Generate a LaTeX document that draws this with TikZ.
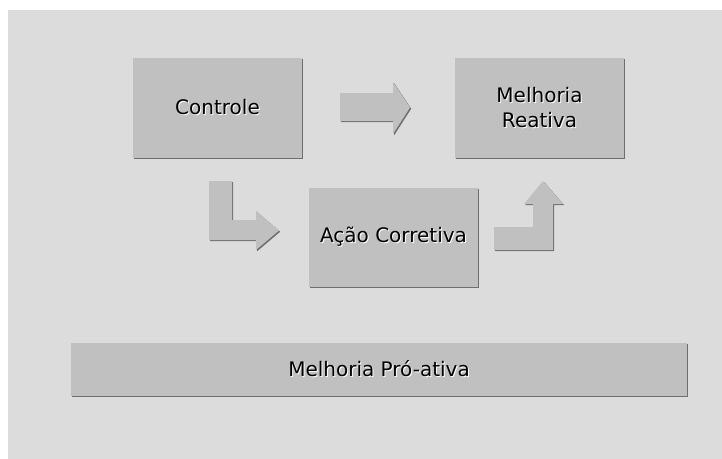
\documentclass[tikz,border=0pt]{standalone}
\usepackage{fontspec}
\setmainfont{DejaVu Sans}
\usetikzlibrary{shadows}

\definecolor{panelgray}{HTML}{DCDCDC}
\definecolor{boxgray}{HTML}{C0C0C0}
\definecolor{edgegray}{HTML}{6E6E6E}

\newcommand{\embossed}[1]{\leavevmode\rlap{\hspace{1pt}\raisebox{-1pt}{\textcolor{white}{#1}}}#1}

\begin{document}
\begin{tikzpicture}[x=1pt,y=-1pt,
    shade3d/.style={drop shadow={shadow xshift=1.2pt,shadow yshift=-1.2pt,fill=edgegray,opacity=1}},
    block/.style={fill=boxgray,shade3d,inner sep=0pt,align=center,
      font=\fontsize{20}{25}\selectfont},
    blockarrow/.style={fill=boxgray,shade3d}]
  \useasboundingbox (0,0) rectangle (722,458);
  \fill[panelgray] (8,10) rectangle (730,466);

  \node[block,minimum width=169pt,minimum height=100pt] (controle) at (217.5,108) {\embossed{Controle}};
  \node[block,minimum width=169pt,minimum height=100pt] (reativa) at (539.5,108) {\embossed{Melhoria}\\\embossed{Reativa}};
  \node[block,minimum width=169pt,minimum height=99pt] (corretiva) at (393.5,237.5) {\embossed{Ação Corretiva}};
  \node[block,minimum width=616pt,minimum height=53pt] (proativa) at (379,369.5) {\embossed{Melhoria Pró-ativa}};

  % block arrows between the steps
  \path[blockarrow] (340,93) -- (393,93) -- (393,82) -- (410,107.5) -- (393,134) -- (393,121) -- (340,121) -- cycle;
  \path[blockarrow] (209,181) -- (232,181) -- (232,220) -- (256,220) -- (256,211) -- (279,230.5)
    -- (256,250) -- (256,240) -- (209,240) -- cycle;
  \path[blockarrow] (494,227) -- (533,227) -- (533,204) -- (524,204) -- (543,181) -- (563,204)
    -- (553,204) -- (553,250) -- (494,250) -- cycle;
\end{tikzpicture}
\end{document}
